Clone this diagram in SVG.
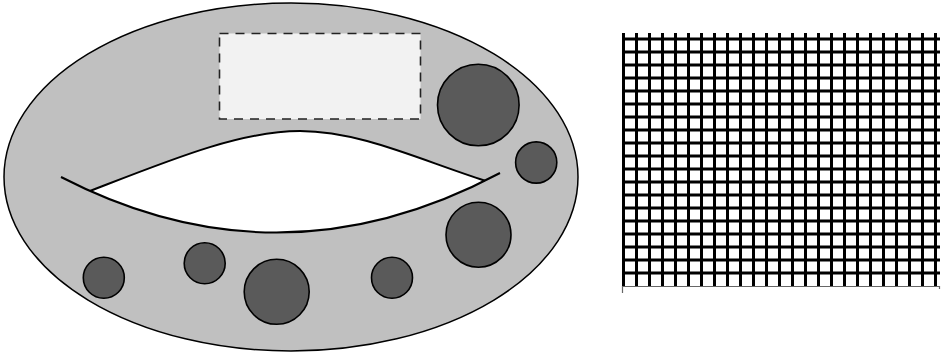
<svg xmlns="http://www.w3.org/2000/svg" width="945" height="358" viewBox="0 0 945 358">
<style>
.body{fill:#c0c0c0;stroke:#000;stroke-width:1.5}
.dot{fill:#5a5a5a;stroke:#000;stroke-width:1.6}
.box{fill:#f2f2f2;stroke:#222;stroke-width:1.6;stroke-dasharray:9 7}
.curve{fill:none;stroke:#000;stroke-width:2}
.grid line{stroke:#000;stroke-width:3}
.axis{fill:none;stroke:#666;stroke-width:1.2}
</style>
<g id="body">
<ellipse class="body" cx="291" cy="177" rx="287" ry="174"/>
<path d="M90,191 C170,160 240,131 300,131 C360,131 420,160 485,180.7 Q287.1,279 90,191 Z" fill="#fff"/>
<path class="curve" d="M90,191 C170,160 240,131 300,131 C360,131 420,160 485,180.7"/>
<path class="curve" d="M61,177 Q280,290 500,173"/>
</g>
<g id="box"><rect class="box" x="219.5" y="33.5" width="201" height="85.5"/></g>
<g id="dots">
<circle class="dot" cx="478.3" cy="105" r="40.8"/>
<circle class="dot" cx="536.2" cy="162.5" r="20.6"/>
<circle class="dot" cx="478.5" cy="234.7" r="32.5"/>
<circle class="dot" cx="392" cy="277.8" r="20.5"/>
<circle class="dot" cx="276.7" cy="291.8" r="32.5"/>
<circle class="dot" cx="204.7" cy="263.3" r="20.5"/>
<circle class="dot" cx="103.8" cy="277.8" r="20.5"/>
</g>
<g id="grid" class="grid">
<line x1="623.5" y1="33" x2="623.5" y2="287"/><line x1="636.5" y1="33" x2="636.5" y2="287"/><line x1="649.5" y1="33" x2="649.5" y2="287"/><line x1="662.5" y1="33" x2="662.5" y2="287"/><line x1="675.5" y1="33" x2="675.5" y2="287"/><line x1="688.5" y1="33" x2="688.5" y2="287"/><line x1="701.5" y1="33" x2="701.5" y2="287"/><line x1="714.5" y1="33" x2="714.5" y2="287"/><line x1="727.5" y1="33" x2="727.5" y2="287"/><line x1="740.5" y1="33" x2="740.5" y2="287"/><line x1="753.5" y1="33" x2="753.5" y2="287"/><line x1="766.5" y1="33" x2="766.5" y2="287"/><line x1="779.5" y1="33" x2="779.5" y2="287"/><line x1="792.5" y1="33" x2="792.5" y2="287"/><line x1="805.5" y1="33" x2="805.5" y2="287"/><line x1="818.5" y1="33" x2="818.5" y2="287"/><line x1="831.5" y1="33" x2="831.5" y2="287"/><line x1="844.5" y1="33" x2="844.5" y2="287"/><line x1="857.5" y1="33" x2="857.5" y2="287"/><line x1="870.5" y1="33" x2="870.5" y2="287"/><line x1="883.5" y1="33" x2="883.5" y2="287"/><line x1="896.5" y1="33" x2="896.5" y2="287"/><line x1="909.5" y1="33" x2="909.5" y2="287"/><line x1="922.5" y1="33" x2="922.5" y2="287"/><line x1="935.5" y1="33" x2="935.5" y2="287"/>
<line x1="622" y1="39" x2="940" y2="39"/><line x1="622" y1="52" x2="940" y2="52"/><line x1="622" y1="65" x2="940" y2="65"/><line x1="622" y1="78" x2="940" y2="78"/><line x1="622" y1="91" x2="940" y2="91"/><line x1="622" y1="104" x2="940" y2="104"/><line x1="622" y1="117" x2="940" y2="117"/><line x1="622" y1="130" x2="940" y2="130"/><line x1="622" y1="143" x2="940" y2="143"/><line x1="622" y1="156" x2="940" y2="156"/><line x1="622" y1="169" x2="940" y2="169"/><line x1="622" y1="182" x2="940" y2="182"/><line x1="622" y1="195" x2="940" y2="195"/><line x1="622" y1="208" x2="940" y2="208"/><line x1="622" y1="221" x2="940" y2="221"/><line x1="622" y1="234" x2="940" y2="234"/><line x1="622" y1="247" x2="940" y2="247"/><line x1="622" y1="260" x2="940" y2="260"/><line x1="622" y1="273" x2="940" y2="273"/>
</g>
<g id="axis"><path class="axis" d="M622.5,293 V286.5 H939.5 V289"/></g>
</svg>
